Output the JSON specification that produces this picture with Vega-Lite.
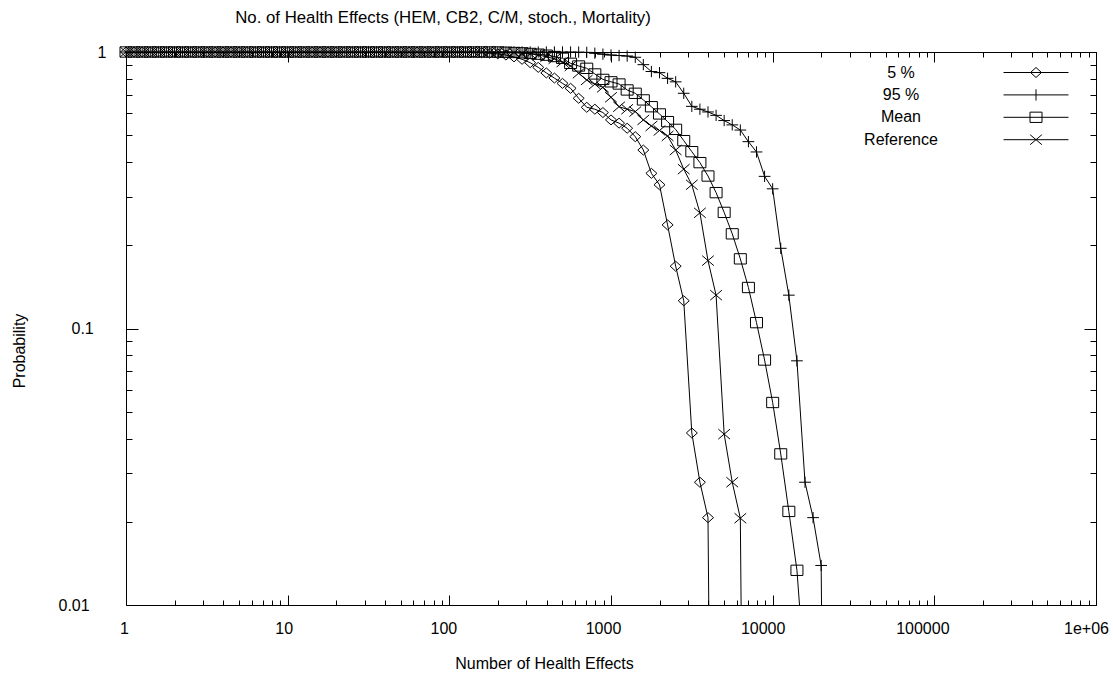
{
  "$schema": "https://vega.github.io/schema/vega-lite/v6.json",
  "width": 970,
  "height": 553,
  "autosize": "none",
  "padding": {"left": 126, "top": 52, "right": 17, "bottom": 70},
  "background": "white",
  "config": {
    "font": "Liberation Sans",
    "view": {"stroke": "black", "strokeWidth": 1},
    "axis": {
      "grid": false,
      "domain": false,
      "labelFont": "Liberation Sans",
      "labelFontSize": 16,
      "labelColor": "black",
      "titleFont": "Liberation Sans",
      "titleFontSize": 16,
      "titleFontWeight": "normal",
      "titleColor": "black",
      "tickColor": "black",
      "tickWidth": 1
    }
  },
  "title": {
    "text": "No. of Health Effects (HEM, CB2, C/M, stoch., Mortality)",
    "font": "Liberation Sans",
    "fontSize": 16.8,
    "fontWeight": "normal",
    "color": "black",
    "anchor": "middle",
    "frame": "group",
    "dx": -168,
    "baseline": "alphabetic",
    "offset": 4
  },
  "data": {
    "values": [
      {"series": "5 %", "x": 1, "y": 1}, {"series": "5 %", "x": 1.122, "y": 1}, {"series": "5 %", "x": 1.259, "y": 1}, {"series": "5 %", "x": 1.413, "y": 1}, {"series": "5 %", "x": 1.585, "y": 1}, {"series": "5 %", "x": 1.778, "y": 1}, {"series": "5 %", "x": 1.995, "y": 1}, {"series": "5 %", "x": 2.239, "y": 1}, {"series": "5 %", "x": 2.512, "y": 1}, {"series": "5 %", "x": 2.818, "y": 1},
      {"series": "5 %", "x": 3.162, "y": 1}, {"series": "5 %", "x": 3.548, "y": 1}, {"series": "5 %", "x": 3.981, "y": 1}, {"series": "5 %", "x": 4.467, "y": 1}, {"series": "5 %", "x": 5.012, "y": 1}, {"series": "5 %", "x": 5.623, "y": 1}, {"series": "5 %", "x": 6.31, "y": 1}, {"series": "5 %", "x": 7.079, "y": 1}, {"series": "5 %", "x": 7.943, "y": 1}, {"series": "5 %", "x": 8.913, "y": 1},
      {"series": "5 %", "x": 10, "y": 1}, {"series": "5 %", "x": 11.22, "y": 1}, {"series": "5 %", "x": 12.59, "y": 1}, {"series": "5 %", "x": 14.13, "y": 1}, {"series": "5 %", "x": 15.85, "y": 1}, {"series": "5 %", "x": 17.78, "y": 1}, {"series": "5 %", "x": 19.95, "y": 1}, {"series": "5 %", "x": 22.39, "y": 1}, {"series": "5 %", "x": 25.12, "y": 1}, {"series": "5 %", "x": 28.18, "y": 1},
      {"series": "5 %", "x": 31.62, "y": 1}, {"series": "5 %", "x": 35.48, "y": 1}, {"series": "5 %", "x": 39.81, "y": 1}, {"series": "5 %", "x": 44.67, "y": 1}, {"series": "5 %", "x": 50.12, "y": 1}, {"series": "5 %", "x": 56.23, "y": 1}, {"series": "5 %", "x": 63.1, "y": 1}, {"series": "5 %", "x": 70.79, "y": 1}, {"series": "5 %", "x": 79.43, "y": 1}, {"series": "5 %", "x": 89.13, "y": 1},
      {"series": "5 %", "x": 100, "y": 1}, {"series": "5 %", "x": 112.2, "y": 1}, {"series": "5 %", "x": 125.9, "y": 0.999}, {"series": "5 %", "x": 141.3, "y": 0.997}, {"series": "5 %", "x": 158.5, "y": 0.994}, {"series": "5 %", "x": 177.8, "y": 0.99}, {"series": "5 %", "x": 199.5, "y": 0.985}, {"series": "5 %", "x": 223.9, "y": 0.975}, {"series": "5 %", "x": 251.2, "y": 0.96}, {"series": "5 %", "x": 281.8, "y": 0.941},
      {"series": "5 %", "x": 316.2, "y": 0.915}, {"series": "5 %", "x": 354.8, "y": 0.88}, {"series": "5 %", "x": 398.1, "y": 0.84}, {"series": "5 %", "x": 446.7, "y": 0.805}, {"series": "5 %", "x": 501.2, "y": 0.77}, {"series": "5 %", "x": 562.3, "y": 0.739}, {"series": "5 %", "x": 631, "y": 0.68}, {"series": "5 %", "x": 707.9, "y": 0.631}, {"series": "5 %", "x": 794.3, "y": 0.621}, {"series": "5 %", "x": 891.3, "y": 0.604},
      {"series": "5 %", "x": 1000, "y": 0.568}, {"series": "5 %", "x": 1122, "y": 0.553}, {"series": "5 %", "x": 1259, "y": 0.53}, {"series": "5 %", "x": 1413, "y": 0.494}, {"series": "5 %", "x": 1585, "y": 0.442}, {"series": "5 %", "x": 1778, "y": 0.364}, {"series": "5 %", "x": 1995, "y": 0.331}, {"series": "5 %", "x": 2239, "y": 0.237}, {"series": "5 %", "x": 2512, "y": 0.168}, {"series": "5 %", "x": 2818, "y": 0.126},
      {"series": "5 %", "x": 3162, "y": 0.0419}, {"series": "5 %", "x": 3548, "y": 0.0278}, {"series": "5 %", "x": 3981, "y": 0.0207}, {"series": "5 %", "x": 4467, "y": 0.00001},

      {"series": "95 %", "x": 1, "y": 1}, {"series": "95 %", "x": 1.122, "y": 1}, {"series": "95 %", "x": 1.259, "y": 1}, {"series": "95 %", "x": 1.413, "y": 1}, {"series": "95 %", "x": 1.585, "y": 1}, {"series": "95 %", "x": 1.778, "y": 1}, {"series": "95 %", "x": 1.995, "y": 1}, {"series": "95 %", "x": 2.239, "y": 1}, {"series": "95 %", "x": 2.512, "y": 1}, {"series": "95 %", "x": 2.818, "y": 1},
      {"series": "95 %", "x": 3.162, "y": 1}, {"series": "95 %", "x": 3.548, "y": 1}, {"series": "95 %", "x": 3.981, "y": 1}, {"series": "95 %", "x": 4.467, "y": 1}, {"series": "95 %", "x": 5.012, "y": 1}, {"series": "95 %", "x": 5.623, "y": 1}, {"series": "95 %", "x": 6.31, "y": 1}, {"series": "95 %", "x": 7.079, "y": 1}, {"series": "95 %", "x": 7.943, "y": 1}, {"series": "95 %", "x": 8.913, "y": 1},
      {"series": "95 %", "x": 10, "y": 1}, {"series": "95 %", "x": 11.22, "y": 1}, {"series": "95 %", "x": 12.59, "y": 1}, {"series": "95 %", "x": 14.13, "y": 1}, {"series": "95 %", "x": 15.85, "y": 1}, {"series": "95 %", "x": 17.78, "y": 1}, {"series": "95 %", "x": 19.95, "y": 1}, {"series": "95 %", "x": 22.39, "y": 1}, {"series": "95 %", "x": 25.12, "y": 1}, {"series": "95 %", "x": 28.18, "y": 1},
      {"series": "95 %", "x": 31.62, "y": 1}, {"series": "95 %", "x": 35.48, "y": 1}, {"series": "95 %", "x": 39.81, "y": 1}, {"series": "95 %", "x": 44.67, "y": 1}, {"series": "95 %", "x": 50.12, "y": 1}, {"series": "95 %", "x": 56.23, "y": 1}, {"series": "95 %", "x": 63.1, "y": 1}, {"series": "95 %", "x": 70.79, "y": 1}, {"series": "95 %", "x": 79.43, "y": 1}, {"series": "95 %", "x": 89.13, "y": 1},
      {"series": "95 %", "x": 100, "y": 1}, {"series": "95 %", "x": 112.2, "y": 1}, {"series": "95 %", "x": 125.9, "y": 1}, {"series": "95 %", "x": 141.3, "y": 1}, {"series": "95 %", "x": 158.5, "y": 1}, {"series": "95 %", "x": 177.8, "y": 1}, {"series": "95 %", "x": 199.5, "y": 1}, {"series": "95 %", "x": 223.9, "y": 1}, {"series": "95 %", "x": 251.2, "y": 1}, {"series": "95 %", "x": 281.8, "y": 1},
      {"series": "95 %", "x": 316.2, "y": 1}, {"series": "95 %", "x": 354.8, "y": 1}, {"series": "95 %", "x": 398.1, "y": 1}, {"series": "95 %", "x": 446.7, "y": 1}, {"series": "95 %", "x": 501.2, "y": 1}, {"series": "95 %", "x": 562.3, "y": 1}, {"series": "95 %", "x": 631, "y": 0.999}, {"series": "95 %", "x": 707.9, "y": 0.997}, {"series": "95 %", "x": 794.3, "y": 0.99}, {"series": "95 %", "x": 891.3, "y": 0.982},
      {"series": "95 %", "x": 1000, "y": 0.975}, {"series": "95 %", "x": 1122, "y": 0.971}, {"series": "95 %", "x": 1259, "y": 0.967}, {"series": "95 %", "x": 1413, "y": 0.957}, {"series": "95 %", "x": 1585, "y": 0.9}, {"series": "95 %", "x": 1778, "y": 0.85}, {"series": "95 %", "x": 1995, "y": 0.842}, {"series": "95 %", "x": 2239, "y": 0.803}, {"series": "95 %", "x": 2512, "y": 0.78}, {"series": "95 %", "x": 2818, "y": 0.709},
      {"series": "95 %", "x": 3162, "y": 0.636}, {"series": "95 %", "x": 3548, "y": 0.621}, {"series": "95 %", "x": 3981, "y": 0.607}, {"series": "95 %", "x": 4467, "y": 0.59}, {"series": "95 %", "x": 5012, "y": 0.565}, {"series": "95 %", "x": 5623, "y": 0.545}, {"series": "95 %", "x": 6310, "y": 0.522}, {"series": "95 %", "x": 7079, "y": 0.474}, {"series": "95 %", "x": 7943, "y": 0.435}, {"series": "95 %", "x": 8913, "y": 0.355},
      {"series": "95 %", "x": 10000, "y": 0.32}, {"series": "95 %", "x": 11220, "y": 0.195}, {"series": "95 %", "x": 12590, "y": 0.132}, {"series": "95 %", "x": 14130, "y": 0.0764}, {"series": "95 %", "x": 15850, "y": 0.0278}, {"series": "95 %", "x": 17780, "y": 0.0207}, {"series": "95 %", "x": 19950, "y": 0.0139}, {"series": "95 %", "x": 22390, "y": 0.00001},

      {"series": "Mean", "x": 1, "y": 1}, {"series": "Mean", "x": 1.122, "y": 1}, {"series": "Mean", "x": 1.259, "y": 1}, {"series": "Mean", "x": 1.413, "y": 1}, {"series": "Mean", "x": 1.585, "y": 1}, {"series": "Mean", "x": 1.778, "y": 1}, {"series": "Mean", "x": 1.995, "y": 1}, {"series": "Mean", "x": 2.239, "y": 1}, {"series": "Mean", "x": 2.512, "y": 1}, {"series": "Mean", "x": 2.818, "y": 1},
      {"series": "Mean", "x": 3.162, "y": 1}, {"series": "Mean", "x": 3.548, "y": 1}, {"series": "Mean", "x": 3.981, "y": 1}, {"series": "Mean", "x": 4.467, "y": 1}, {"series": "Mean", "x": 5.012, "y": 1}, {"series": "Mean", "x": 5.623, "y": 1}, {"series": "Mean", "x": 6.31, "y": 1}, {"series": "Mean", "x": 7.079, "y": 1}, {"series": "Mean", "x": 7.943, "y": 1}, {"series": "Mean", "x": 8.913, "y": 1},
      {"series": "Mean", "x": 10, "y": 1}, {"series": "Mean", "x": 11.22, "y": 1}, {"series": "Mean", "x": 12.59, "y": 1}, {"series": "Mean", "x": 14.13, "y": 1}, {"series": "Mean", "x": 15.85, "y": 1}, {"series": "Mean", "x": 17.78, "y": 1}, {"series": "Mean", "x": 19.95, "y": 1}, {"series": "Mean", "x": 22.39, "y": 1}, {"series": "Mean", "x": 25.12, "y": 1}, {"series": "Mean", "x": 28.18, "y": 1},
      {"series": "Mean", "x": 31.62, "y": 1}, {"series": "Mean", "x": 35.48, "y": 1}, {"series": "Mean", "x": 39.81, "y": 1}, {"series": "Mean", "x": 44.67, "y": 1}, {"series": "Mean", "x": 50.12, "y": 1}, {"series": "Mean", "x": 56.23, "y": 1}, {"series": "Mean", "x": 63.1, "y": 1}, {"series": "Mean", "x": 70.79, "y": 1}, {"series": "Mean", "x": 79.43, "y": 1}, {"series": "Mean", "x": 89.13, "y": 1},
      {"series": "Mean", "x": 100, "y": 1}, {"series": "Mean", "x": 112.2, "y": 1}, {"series": "Mean", "x": 125.9, "y": 1}, {"series": "Mean", "x": 141.3, "y": 1}, {"series": "Mean", "x": 158.5, "y": 1}, {"series": "Mean", "x": 177.8, "y": 1}, {"series": "Mean", "x": 199.5, "y": 1}, {"series": "Mean", "x": 223.9, "y": 0.998}, {"series": "Mean", "x": 251.2, "y": 0.996}, {"series": "Mean", "x": 281.8, "y": 0.993},
      {"series": "Mean", "x": 316.2, "y": 0.988}, {"series": "Mean", "x": 354.8, "y": 0.982}, {"series": "Mean", "x": 398.1, "y": 0.974}, {"series": "Mean", "x": 446.7, "y": 0.963}, {"series": "Mean", "x": 501.2, "y": 0.949}, {"series": "Mean", "x": 562.3, "y": 0.91}, {"series": "Mean", "x": 631, "y": 0.89}, {"series": "Mean", "x": 707.9, "y": 0.873}, {"series": "Mean", "x": 794.3, "y": 0.833}, {"series": "Mean", "x": 891.3, "y": 0.796},
      {"series": "Mean", "x": 1000, "y": 0.78}, {"series": "Mean", "x": 1122, "y": 0.766}, {"series": "Mean", "x": 1259, "y": 0.729}, {"series": "Mean", "x": 1413, "y": 0.709}, {"series": "Mean", "x": 1585, "y": 0.671}, {"series": "Mean", "x": 1778, "y": 0.634}, {"series": "Mean", "x": 1995, "y": 0.597}, {"series": "Mean", "x": 2239, "y": 0.56}, {"series": "Mean", "x": 2512, "y": 0.525}, {"series": "Mean", "x": 2818, "y": 0.478},
      {"series": "Mean", "x": 3162, "y": 0.436}, {"series": "Mean", "x": 3548, "y": 0.398}, {"series": "Mean", "x": 3981, "y": 0.356}, {"series": "Mean", "x": 4467, "y": 0.31}, {"series": "Mean", "x": 5012, "y": 0.263}, {"series": "Mean", "x": 5623, "y": 0.22}, {"series": "Mean", "x": 6310, "y": 0.1786}, {"series": "Mean", "x": 7079, "y": 0.1407}, {"series": "Mean", "x": 7943, "y": 0.105}, {"series": "Mean", "x": 8913, "y": 0.0769},
      {"series": "Mean", "x": 10000, "y": 0.054}, {"series": "Mean", "x": 11220, "y": 0.0352}, {"series": "Mean", "x": 12590, "y": 0.0218}, {"series": "Mean", "x": 14130, "y": 0.01335}, {"series": "Mean", "x": 15850, "y": 0.0054},

      {"series": "Reference", "x": 1, "y": 1}, {"series": "Reference", "x": 1.122, "y": 1}, {"series": "Reference", "x": 1.259, "y": 1}, {"series": "Reference", "x": 1.413, "y": 1}, {"series": "Reference", "x": 1.585, "y": 1}, {"series": "Reference", "x": 1.778, "y": 1}, {"series": "Reference", "x": 1.995, "y": 1}, {"series": "Reference", "x": 2.239, "y": 1}, {"series": "Reference", "x": 2.512, "y": 1}, {"series": "Reference", "x": 2.818, "y": 1},
      {"series": "Reference", "x": 3.162, "y": 1}, {"series": "Reference", "x": 3.548, "y": 1}, {"series": "Reference", "x": 3.981, "y": 1}, {"series": "Reference", "x": 4.467, "y": 1}, {"series": "Reference", "x": 5.012, "y": 1}, {"series": "Reference", "x": 5.623, "y": 1}, {"series": "Reference", "x": 6.31, "y": 1}, {"series": "Reference", "x": 7.079, "y": 1}, {"series": "Reference", "x": 7.943, "y": 1}, {"series": "Reference", "x": 8.913, "y": 1},
      {"series": "Reference", "x": 10, "y": 1}, {"series": "Reference", "x": 11.22, "y": 1}, {"series": "Reference", "x": 12.59, "y": 1}, {"series": "Reference", "x": 14.13, "y": 1}, {"series": "Reference", "x": 15.85, "y": 1}, {"series": "Reference", "x": 17.78, "y": 1}, {"series": "Reference", "x": 19.95, "y": 1}, {"series": "Reference", "x": 22.39, "y": 1}, {"series": "Reference", "x": 25.12, "y": 1}, {"series": "Reference", "x": 28.18, "y": 1},
      {"series": "Reference", "x": 31.62, "y": 1}, {"series": "Reference", "x": 35.48, "y": 1}, {"series": "Reference", "x": 39.81, "y": 1}, {"series": "Reference", "x": 44.67, "y": 1}, {"series": "Reference", "x": 50.12, "y": 1}, {"series": "Reference", "x": 56.23, "y": 1}, {"series": "Reference", "x": 63.1, "y": 1}, {"series": "Reference", "x": 70.79, "y": 1}, {"series": "Reference", "x": 79.43, "y": 1}, {"series": "Reference", "x": 89.13, "y": 1},
      {"series": "Reference", "x": 100, "y": 1}, {"series": "Reference", "x": 112.2, "y": 1}, {"series": "Reference", "x": 125.9, "y": 1}, {"series": "Reference", "x": 141.3, "y": 1}, {"series": "Reference", "x": 158.5, "y": 1}, {"series": "Reference", "x": 177.8, "y": 1}, {"series": "Reference", "x": 199.5, "y": 1}, {"series": "Reference", "x": 223.9, "y": 0.998}, {"series": "Reference", "x": 251.2, "y": 0.995}, {"series": "Reference", "x": 281.8, "y": 0.99},
      {"series": "Reference", "x": 316.2, "y": 0.985}, {"series": "Reference", "x": 354.8, "y": 0.975}, {"series": "Reference", "x": 398.1, "y": 0.962}, {"series": "Reference", "x": 446.7, "y": 0.945}, {"series": "Reference", "x": 501.2, "y": 0.92}, {"series": "Reference", "x": 562.3, "y": 0.89}, {"series": "Reference", "x": 631, "y": 0.838}, {"series": "Reference", "x": 707.9, "y": 0.792}, {"series": "Reference", "x": 794.3, "y": 0.765}, {"series": "Reference", "x": 891.3, "y": 0.745},
      {"series": "Reference", "x": 1000, "y": 0.686}, {"series": "Reference", "x": 1122, "y": 0.634}, {"series": "Reference", "x": 1259, "y": 0.621}, {"series": "Reference", "x": 1413, "y": 0.609}, {"series": "Reference", "x": 1585, "y": 0.568}, {"series": "Reference", "x": 1778, "y": 0.54}, {"series": "Reference", "x": 1995, "y": 0.52}, {"series": "Reference", "x": 2239, "y": 0.497}, {"series": "Reference", "x": 2512, "y": 0.442}, {"series": "Reference", "x": 2818, "y": 0.377},
      {"series": "Reference", "x": 3162, "y": 0.331}, {"series": "Reference", "x": 3548, "y": 0.262}, {"series": "Reference", "x": 3981, "y": 0.176}, {"series": "Reference", "x": 4467, "y": 0.132}, {"series": "Reference", "x": 5012, "y": 0.0415}, {"series": "Reference", "x": 5623, "y": 0.0278}, {"series": "Reference", "x": 6310, "y": 0.0206}, {"series": "Reference", "x": 7079, "y": 0.00001}
    ]
  },
  "resolve": {
    "axis": {"x": "independent", "y": "independent"},
    "scale": {"shape": "independent"},
    "legend": {"shape": "independent"}
  },
  "layer": [
    {
      "mark": {"type": "line", "color": "black", "strokeWidth": 1, "clip": true},
      "encoding": {
        "x": {
          "field": "x", "type": "quantitative",
          "scale": {"type": "log", "domain": [1, 1000000], "nice": false},
          "axis": {
            "orient": "bottom",
            "values": [1, 10, 100, 1000, 10000, 100000, 1000000],
            "tickSize": -10,
            "labelPadding": 38,
            "labelBaseline": "alphabetic",
            "labelAlign": "center",
            "labelExpr": "datum.value >= 1000000 ? '1e+06' : format(datum.value, 'd')",
            "labelOffset": {"condition": [
              {"test": "datum.value < 5", "value": -2},
              {"test": "datum.value < 50", "value": -4},
              {"test": "datum.value < 500", "value": -6},
              {"test": "datum.value < 5000", "value": -8},
              {"test": "datum.value < 50000", "value": -10},
              {"test": "datum.value < 500000", "value": -12}
            ], "value": -10},
            "title": "Number of Health Effects",
            "titleX": 418,
            "titleY": 63,
            "titleBaseline": "alphabetic",
            "titleAlign": "center"
          }
        },
        "y": {
          "field": "y", "type": "quantitative",
          "scale": {"type": "log", "domain": [0.01, 1], "nice": false},
          "axis": {
            "orient": "left",
            "values": [0.01, 0.1, 1],
            "tickSize": -12,
            "labelAlign": "left",
            "labelBaseline": "middle",
            "labelPadding": {"condition": [
              {"test": "datum.value > 0.5", "value": 41},
              {"test": "datum.value > 0.05", "value": 67}
            ], "value": 80},
            "labelExpr": "format(datum.value, '~g')",
            "title": "Probability",
            "titleX": -102,
            "titleY": 298.5,
            "titleAngle": 270,
            "titleBaseline": "alphabetic",
            "titleAlign": "center"
          }
        },
        "detail": {"field": "series", "type": "nominal"}
      }
    },
    {
      "transform": [{"filter": "datum.y >= 0.01"}],
      "mark": {"type": "point", "filled": false, "color": "black", "strokeWidth": 1, "size": 144, "opacity": 1},
      "encoding": {
        "x": {
          "field": "x", "type": "quantitative",
          "axis": {
            "orient": "bottom",
            "values": [2, 3, 4, 5, 6, 7, 8, 9, 20, 30, 40, 50, 60, 70, 80, 90, 200, 300, 400, 500, 600, 700, 800, 900, 2000, 3000, 4000, 5000, 6000, 7000, 8000, 9000, 20000, 30000, 40000, 50000, 60000, 70000, 80000, 90000, 200000, 300000, 400000, 500000, 600000, 700000, 800000, 900000],
            "tickSize": -5, "labels": false, "title": null
          }
        },
        "y": {
          "field": "y", "type": "quantitative",
          "axis": {
            "orient": "left",
            "values": [0.02, 0.03, 0.04, 0.05, 0.06, 0.07, 0.08, 0.09, 0.2, 0.3, 0.4, 0.5, 0.6, 0.7, 0.8, 0.9],
            "tickSize": -6, "labels": false, "title": null
          }
        },
        "shape": {
          "field": "series", "type": "nominal",
          "scale": {
            "domain": ["5 %", "95 %", "Mean", "Reference"],
            "range": [
              "M0,-0.833L0.917,0L0,0.833L-0.917,0Z",
              "M-0.975,0H0.975M0,-0.94V0.94",
              "M-1,-0.86H1V0.86H-1Z",
              "M-0.975,-0.833L0.975,0.833M-0.975,0.833L0.975,-0.833"
            ]
          },
          "legend": null
        }
      }
    },
    {
      "mark": {"type": "point", "filled": false, "color": "black", "opacity": 0, "clip": true},
      "encoding": {
        "x": {
          "field": "x", "type": "quantitative",
          "axis": {"orient": "top", "values": [1, 10, 100, 1000, 10000, 100000, 1000000], "tickSize": -10, "labels": false, "title": null}
        },
        "y": {
          "field": "y", "type": "quantitative",
          "axis": {"orient": "right", "values": [0.01, 0.1, 1], "tickSize": -12, "labels": false, "title": null}
        },
        "shape": {
          "field": "series", "type": "nominal",
          "scale": {
            "domain": ["5 %", "95 %", "Mean", "Reference"],
            "range": [
              "M-3.25,0H3.25M0,-0.5L0.55,0L0,0.5L-0.55,0Z",
              "M-3.25,0H3.25M0,-0.565V0.565",
              "M-3.25,0H3.25M-0.6,-0.515H0.6V0.515H-0.6Z",
              "M-3.25,0H3.25M-0.585,-0.5L0.585,0.5M-0.585,0.5L0.585,-0.5"
            ]
          },
          "legend": {
            "orient": "none",
            "legendX": 899.5,
            "legendY": 10,
            "title": null,
            "padding": 0,
            "rowPadding": 3.4,
            "symbolSize": 400,
            "symbolStrokeWidth": 1,
            "symbolStrokeColor": "black",
            "symbolFillColor": "transparent",
            "symbolOpacity": 1,
            "labelFont": "Liberation Sans",
            "labelFontSize": 16,
            "labelColor": "black",
            "labelAlign": "center",
            "labelBaseline": "middle",
            "labelOffset": -145.5,
            "labelLimit": 300
          }
        }
      }
    },
    {
      "mark": {"type": "point", "opacity": 0, "clip": true},
      "encoding": {
        "x": {
          "field": "x", "type": "quantitative",
          "axis": {
            "orient": "top",
            "values": [2, 3, 4, 5, 6, 7, 8, 9, 20, 30, 40, 50, 60, 70, 80, 90, 200, 300, 400, 500, 600, 700, 800, 900, 2000, 3000, 4000, 5000, 6000, 7000, 8000, 9000, 20000, 30000, 40000, 50000, 60000, 70000, 80000, 90000, 200000, 300000, 400000, 500000, 600000, 700000, 800000, 900000],
            "tickSize": -5, "labels": false, "title": null
          }
        },
        "y": {
          "field": "y", "type": "quantitative",
          "axis": {
            "orient": "right",
            "values": [0.02, 0.03, 0.04, 0.05, 0.06, 0.07, 0.08, 0.09, 0.2, 0.3, 0.4, 0.5, 0.6, 0.7, 0.8, 0.9],
            "tickSize": -6, "labels": false, "title": null
          }
        }
      }
    }
  ]
}
